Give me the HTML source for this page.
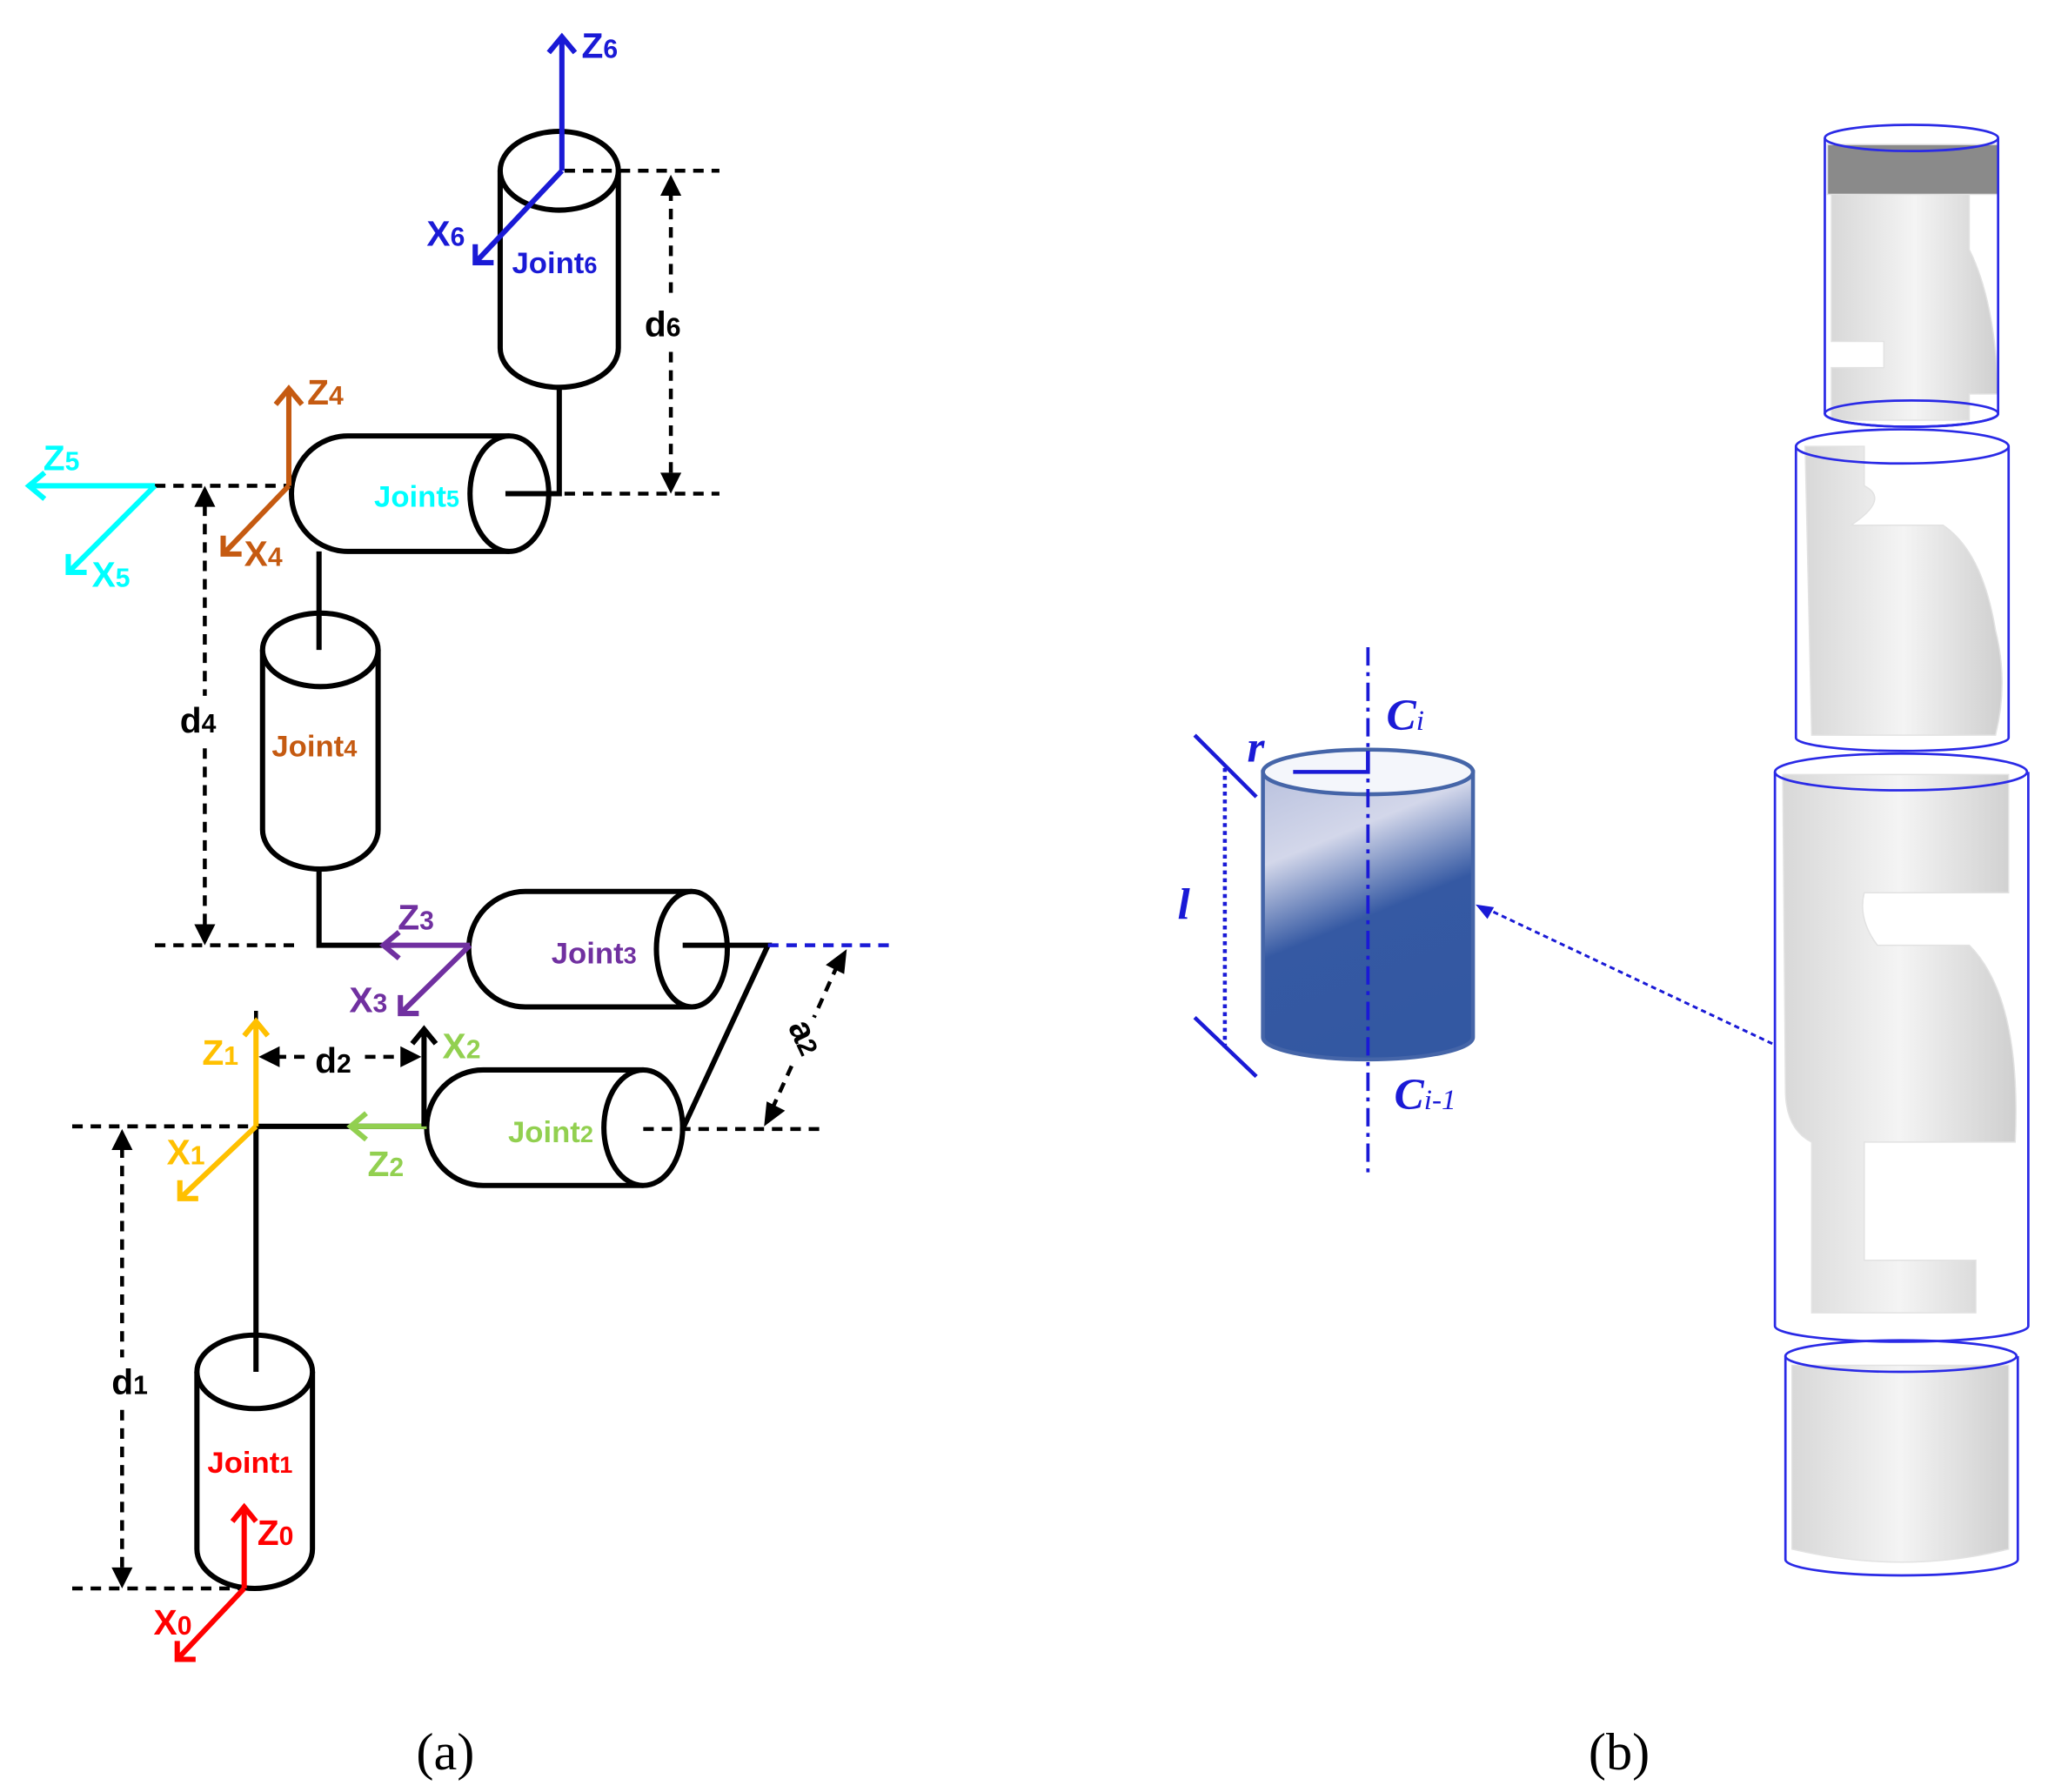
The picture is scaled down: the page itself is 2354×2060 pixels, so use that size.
<!DOCTYPE html>
<html><head><meta charset="utf-8"><style>html,body{margin:0;padding:0;background:#fff}svg{display:block}</style></head><body>
<svg width="2354" height="2060" viewBox="0 0 1560 1365" xmlns="http://www.w3.org/2000/svg" font-family="Liberation Sans, sans-serif" font-weight="bold">
<defs>
<linearGradient id="cg" x1="0" y1="0" x2="0.3" y2="1">
<stop offset="0" stop-color="#b9c1de"/><stop offset="0.3" stop-color="#d3d7ea"/><stop offset="0.6" stop-color="#3559a3"/><stop offset="1" stop-color="#3358a2"/></linearGradient>
<linearGradient id="gr" x1="0" y1="0" x2="1" y2="0"><stop offset="0" stop-color="#d8d8d8"/><stop offset="0.5" stop-color="#f4f4f4"/><stop offset="1" stop-color="#cfcfcf"/></linearGradient>
</defs>
<g stroke="#000" stroke-width="4" fill="#fff">
<path d="M381,130 V265 A45,30 0 0 0 471,265 V130"/><ellipse cx="426" cy="130" rx="45" ry="30"/>
<path d="M200,495 V632 A44,30 0 0 0 288,632 V495"/><ellipse cx="244" cy="495" rx="44" ry="28"/>
<path d="M150,1045 V1180 A44,30 0 0 0 238,1180 V1045"/><ellipse cx="194" cy="1045" rx="44" ry="28"/>
<path d="M388,332 H265 A43,44 0 0 0 265,420 H388"/><ellipse cx="388" cy="376" rx="30" ry="44"/>
<path d="M527,679 H400 A43,44 0 0 0 400,767 H527"/><ellipse cx="527" cy="723" rx="27" ry="44"/>
<path d="M490,815 H368 A43,44 0 0 0 368,903 H490"/><ellipse cx="490" cy="859" rx="30" ry="44"/>
<g fill="none">
<path d="M426,295 V376 H385"/><path d="M243,420 V495"/><path d="M243,660 V720 H300"/>
<path d="M520,720 H585 L520,860"/><path d="M195,858 H325"/><path d="M195,858 V1045"/>
</g>
</g>
<g stroke="#000" stroke-width="3" stroke-dasharray="8,6" fill="none">
<path d="M430,130 H548 M430,376 H548 M118,370 H220 M118,720 H225 M490,860 H625 M55,858 H195 M55,1210 H185 M195,770 V805"/>
<path d="M511,145 V228 M511,268 V362 M156,385 V530 M156,570 V706 M93,874 V1034 M93,1074 V1196 M210,805 H236 M278,805 H308 M638,735 L620,775 M603,812 L588,845"/>
</g>
<path d="M585,720 H678" stroke="#1a1ad6" stroke-width="3" stroke-dasharray="8,6"/>
<g fill="#000">
<path d="M511,133 l-8,16 h16z M511,376 l-8,-16 h16z M156,370 l-8,16 h16z M156,720 l-8,-16 h16z M93,860 l-8,16 h16z M93,1210 l-8,-16 h16z M197,805 l16,-8 v16z M321,805 l-16,-8 v16z"/>
<path d="M645,723 l-2,19 l-14,-7z M582,858 l2,-19 l14,7z"/>
</g>
<g fill="none" stroke-width="4">
<g stroke="#1a1ad6"><path d="M428,130 V30 M418,40 L428,28 L438,40 M428,130 L362,200 M362,186 V200 H376"/></g>
<g stroke="#c55a11"><path d="M220,370 V298 M210,308 L220,296 L230,308 M220,370 L170,422 M170,408 V422 H184"/></g>
<g stroke="#00ffff"><path d="M118,370 H22 M34,360 L22,370 L34,380 M118,370 L52,436 M52,422 V436 H66"/></g>
<g stroke="#7030a0"><path d="M358,720 H292 M304,710 L292,720 L304,730 M358,720 L305,772 M305,758 V772 H319"/></g>
<g stroke="#92d050"><path d="M325,858 H267 M279,848 L267,858 L279,868"/></g>
<g stroke="#000"><path d="M323,858 V784 M314,795 L323,784 L332,795"/></g>
<g stroke="#ffc000"><path d="M195,858 V778 M186,789 L195,778 L204,789 M195,858 L137,913 M137,899 V913 H151"/></g>
<g stroke="#ff0000"><path d="M186,1210 V1148 M177,1159 L186,1148 L195,1159 M186,1210 L135,1264 M135,1250 V1264 H149"/></g>
</g>
<g font-size="27">
<text x="443" y="44" fill="#1a1ad6">Z<tspan font-size="20">6</tspan></text>
<text x="325" y="187" fill="#1a1ad6">X<tspan font-size="20">6</tspan></text>
<text x="390" y="208" fill="#1a1ad6" font-size="23">Joint<tspan font-size="18">6</tspan></text>
<text x="491" y="256" fill="#000">d<tspan font-size="20">6</tspan></text>
<text x="234" y="308" fill="#c55a11">Z<tspan font-size="20">4</tspan></text>
<text x="186" y="431" fill="#c55a11">X<tspan font-size="20">4</tspan></text>
<text x="33" y="358" fill="#00ffff">Z<tspan font-size="20">5</tspan></text>
<text x="70" y="447" fill="#00ffff">X<tspan font-size="20">5</tspan></text>
<text x="285" y="386" fill="#00ffff" font-size="23">Joint<tspan font-size="18">5</tspan></text>
<text x="137" y="558" fill="#000">d<tspan font-size="20">4</tspan></text>
<text x="207" y="576" fill="#c55a11" font-size="23">Joint<tspan font-size="18">4</tspan></text>
<text x="303" y="708" fill="#7030a0">Z<tspan font-size="20">3</tspan></text>
<text x="266" y="771" fill="#7030a0">X<tspan font-size="20">3</tspan></text>
<text x="420" y="734" fill="#7030a0" font-size="23">Joint<tspan font-size="18">3</tspan></text>
<text x="337" y="806" fill="#92d050">X<tspan font-size="20">2</tspan></text>
<text x="240" y="817" fill="#000">d<tspan font-size="20">2</tspan></text>
<text x="154" y="811" fill="#ffc000">Z<tspan font-size="20">1</tspan></text>
<text x="280" y="896" fill="#92d050">Z<tspan font-size="20">2</tspan></text>
<text x="387" y="870" fill="#92d050" font-size="23">Joint<tspan font-size="18">2</tspan></text>
<text x="127" y="887" fill="#ffc000">X<tspan font-size="20">1</tspan></text>
<text x="85" y="1062" fill="#000">d<tspan font-size="20">1</tspan></text>
<text x="158" y="1122" fill="#ff0000" font-size="23">Joint<tspan font-size="18">1</tspan></text>
<text x="196" y="1177" fill="#ff0000">Z<tspan font-size="20">0</tspan></text>
<text x="117" y="1245" fill="#ff0000">X<tspan font-size="20">0</tspan></text>
<text x="0" y="0" fill="#000" transform="translate(600,782) rotate(65)">a<tspan font-size="20">2</tspan></text>
</g>
<text x="317" y="1348" font-family="Liberation Serif, serif" font-weight="normal" font-size="40">(a)</text>
<text x="1210" y="1348" font-family="Liberation Serif, serif" font-weight="normal" font-size="40">(b)</text>
<path d="M962,588 V790 A80,17 0 0 0 1122,790 V588 Z" fill="url(#cg)" stroke="#4565a8" stroke-width="3"/>
<ellipse cx="1042" cy="588" rx="80" ry="17" fill="#f4f6fb" stroke="#4565a8" stroke-width="3"/>
<path d="M1042,493 V898" stroke="#1a1ad6" stroke-width="2.5" stroke-dasharray="14,5,3,5"/>
<path d="M985,588 H1042 V572" stroke="#1a1ad6" stroke-width="3" fill="none"/>
<path d="M910,560 L957,607 M910,775 L957,820" stroke="#1a1ad6" stroke-width="3"/>
<path d="M933,585 V800" stroke="#1a1ad6" stroke-width="3" stroke-dasharray="3,3"/>
<path d="M1350,795 L1132,692" stroke="#1a1ad6" stroke-width="2" stroke-dasharray="4,3"/>
<path d="M1124,689 l14,2 l-5,9z" fill="#1a1ad6"/>
<g font-family="Liberation Serif, serif" font-style="italic" font-weight="bold" fill="#1a1ad6" font-size="34">
<text x="950" y="580">r</text><text x="897" y="700">l</text>
<text x="1056" y="556">C<tspan font-size="22" font-weight="normal">i</tspan></text>
<text x="1062" y="845">C<tspan font-size="22" font-weight="normal">i-1</tspan></text>
</g>
<g fill="url(#gr)" stroke="#e2e2e2" stroke-width="1">
<path d="M1395,125 H1500 V190 Q1520,230 1522,300 H1500 V320 H1395 V280 H1435 V260 H1395 Z"/>
<rect x="1392" y="110" width="130" height="38" fill="#8a8a8a"/>
<path d="M1375,340 H1420 V370 Q1440,380 1410,400 H1480 Q1510,420 1520,480 Q1530,520 1520,560 H1380 Z"/>
<path d="M1358,590 H1530 V680 H1420 Q1415,700 1430,720 H1500 Q1540,760 1535,870 H1420 V960 H1505 V1000 H1380 V870 Q1360,860 1360,830 Z"/>
<path d="M1365,1040 H1530 V1180 Q1450,1200 1365,1180 Z"/>
</g>
<g fill="none" stroke="#2a2ae6" stroke-width="1.8">
<path d="M1390,105 V315 A66,10 0 0 0 1522,315 V105"/><ellipse cx="1456" cy="105" rx="66" ry="10"/><ellipse cx="1456" cy="315" rx="66" ry="10"/>
<path d="M1368,340 V562 A81,10 0 0 0 1530,562 V340"/><ellipse cx="1449" cy="340" rx="81" ry="13"/>
<path d="M1352,588 V1010 A96,12 0 0 0 1545,1010 V588"/><ellipse cx="1448" cy="588" rx="96" ry="14"/>
<path d="M1360,1033 V1188 A88,12 0 0 0 1537,1188 V1033"/><ellipse cx="1448" cy="1033" rx="88" ry="12"/>
</g>
</svg>
</body></html>
